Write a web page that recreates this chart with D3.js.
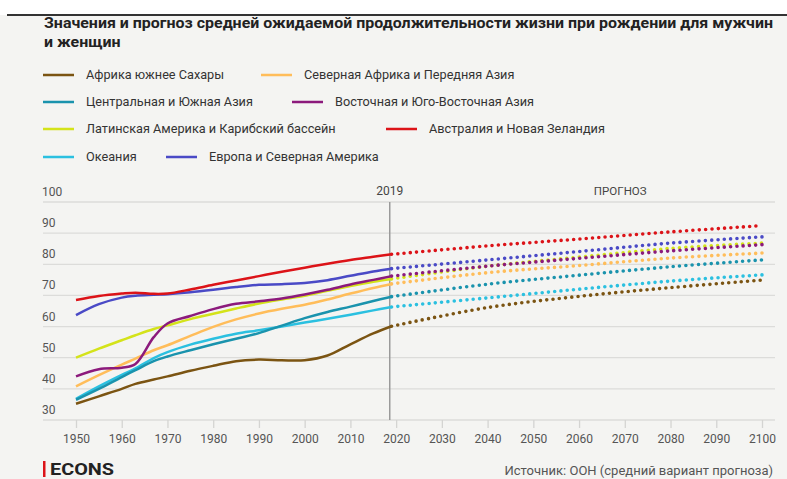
<!DOCTYPE html>
<html lang="ru">
<head>
<meta charset="UTF-8">
<title>Ожидаемая продолжительность жизни</title>
<script src="https://cdnjs.cloudflare.com/ajax/libs/d3/7.8.5/d3.min.js"></script>
<style>
  body, html { margin: 0; padding: 0; background: #fff; overflow: hidden; font-family: Roboto, Arial, sans-serif; }
  #chart { width: 787px; height: 479px; }
</style>
</head>
<body>
<div id="chart"></div>
<script>
// годы наблюдений и прогноза
const years = [1950, 1955, 1960, 1963, 1967, 1970, 1975, 1980, 1985, 1990, 1995, 2000, 2005, 2010, 2015, 2019];
const forecastYears = [2019, 2040, 2060, 2080, 2100];
const xTicks = [1950, 1960, 1970, 1980, 1990, 2000, 2010, 2020, 2030, 2040, 2050, 2060, 2070, 2080, 2090, 2100];
const yTicks = [30, 40, 50, 60, 70, 80, 90, 100];

const names = [
  "Африка южнее Сахары", "Северная Африка и Передняя Азия",
  "Центральная и Южная Азия", "Восточная и Юго-Восточная Азия",
  "Латинская Америка и Карибский бассейн", "Австралия и Новая Зеландия",
  "Океания", "Европа и Северная Америка"
];
const colors = ["#7b5412", "#ffbd5a", "#1a93ad", "#8c1a7c", "#d4e31a", "#dc1318", "#2bc0e0", "#4a4ac6"];

// факт
const subSahara  = [35.2, 37.6, 40.0, 41.6, 43.0, 44.0, 45.8, 47.4, 48.9, 49.4, 49.2, 49.2, 50.7, 54.3, 57.8, 60.1];
const northAfr   = [40.8, 44.4, 47.8, 49.7, 52.4, 54.0, 57.0, 59.9, 62.3, 64.2, 65.7, 67.0, 68.7, 70.6, 72.4, 73.7];
const centralAs  = [36.5, 40.0, 43.8, 46.0, 48.9, 50.4, 52.4, 54.3, 56.1, 57.9, 60.3, 62.7, 64.7, 66.4, 68.2, 69.6];
const eastAs     = [44.0, 46.3, 46.8, 48.0, 56.6, 61.0, 63.4, 65.6, 67.3, 68.1, 69.0, 70.3, 71.8, 73.5, 75.0, 76.2];
const latAm      = [50.0, 52.9, 55.6, 57.2, 59.2, 60.4, 62.4, 64.1, 65.8, 67.4, 68.7, 69.9, 71.5, 73.0, 74.4, 75.3];
const ausNz      = [68.5, 69.8, 70.6, 70.9, 70.5, 70.6, 71.9, 73.4, 74.8, 76.2, 77.6, 78.9, 80.2, 81.4, 82.4, 83.2];
const oceania    = [36.8, 40.8, 44.5, 46.6, 49.9, 51.8, 54.2, 56.1, 57.7, 58.8, 60.0, 61.3, 62.5, 63.8, 65.2, 66.3];
const europeNa   = [63.7, 67.2, 69.3, 69.9, 70.2, 70.4, 71.0, 71.8, 72.7, 73.4, 73.6, 74.0, 74.9, 76.3, 77.7, 78.6];

// прогноз
const subSaharaF = [60.1, 66.1, 69.7, 72.5, 74.9];
const northAfrF  = [73.7, 77.3, 79.6, 82.0, 83.6];
const centralAsF = [69.6, 73.6, 76.5, 79.2, 81.4];
const eastAsF    = [76.2, 79.4, 81.9, 84.3, 86.3];
const latAmF     = [75.3, 79.4, 82.3, 85.1, 86.8];
const ausNzF     = [83.2, 85.9, 88.1, 90.4, 92.4];
const oceaniaF   = [66.3, 69.2, 72.0, 74.6, 76.6];
const europeNaF  = [78.6, 81.4, 84.1, 86.8, 88.8];

const hist = [subSahara, northAfr, centralAs, eastAs, latAm, ausNz, oceania, europeNa];
const fcst = [subSaharaF, northAfrF, centralAsF, eastAsF, latAmF, ausNzF, oceaniaF, europeNaF];

const W = 787, H = 479;
const svg = d3.select("#chart").append("svg").attr("width", W).attr("height", H);

svg.append("rect").attr("width", W).attr("height", H).attr("fill", "#fff");
svg.append("rect").attr("y", 15).attr("width", W).attr("height", H - 15).attr("fill", "#f4f4f2");
svg.append("rect").attr("x", 7).attr("y", 14).attr("width", W - 7).attr("height", 2).attr("fill", "#333");

// заголовок
const title = svg.append("g").attr("font-weight", 700).attr("font-size", 14).attr("fill", "#222");
const t1 = title.append("text").attr("x", 44).attr("y", 28)
  .text("Значения и прогноз средней ожидаемой продолжительности жизни при рождении для мужчин");
const t2 = title.append("text").attr("x", 44).attr("y", 47).text("и женщин");
const ratio = 729 / t1.node().getComputedTextLength();
t1.attr("textLength", 729).attr("lengthAdjust", "spacingAndGlyphs");
t2.attr("textLength", t2.node().getComputedTextLength() * ratio).attr("lengthAdjust", "spacingAndGlyphs");

// легенда
const legendRows = [75, 102, 129, 157];
const legendCol2 = [261, 292, 386, 166];
names.forEach((n, i) => {
  const row = Math.floor(i / 2);
  const x0 = i % 2 === 0 ? 43 : legendCol2[row];
  const y0 = legendRows[row];
  const g = svg.append("g").attr("transform", `translate(${x0},${y0})`);
  g.append("line").attr("x1", 0).attr("x2", 31).attr("stroke", colors[i]).attr("stroke-width", 2.5);
  g.append("text").attr("x", 43).attr("dy", "0.35em").attr("font-size", 12.7).attr("fill", "#333").text(n);
});

// шкалы
const x = d3.scaleLinear().domain([1950, 2100]).range([76, 762]);
const y = d3.scaleLinear().domain([30, 100]).range([420, 202]);

// сетка
svg.append("g").selectAll("line").data(yTicks).join("line")
  .attr("x1", 43).attr("x2", 775)
  .attr("y1", d => y(d)).attr("y2", d => y(d))
  .attr("stroke", "#dcdcda").attr("stroke-width", 1.3);

svg.append("g").selectAll("text").data(yTicks).join("text")
  .attr("x", 42).attr("y", d => y(d) - 6)
  .attr("font-size", 12).attr("fill", "#555").text(d => d);

// ось X
const xAxis = svg.append("g").attr("transform", `translate(0,${y(30)})`)
  .call(d3.axisBottom(x).tickValues(xTicks).tickSize(8).tickPadding(6).tickFormat(d3.format("d")));
xAxis.select(".domain").remove();
xAxis.selectAll(".tick line").attr("stroke", "#d4d4d2").attr("stroke-width", 1.3);
xAxis.selectAll(".tick text").attr("font-size", 12).attr("fill", "#555").attr("font-family", "Roboto, Arial, sans-serif");

// линия 2019
svg.append("line").attr("x1", x(2018.6)).attr("x2", x(2018.6)).attr("y1", y(100)).attr("y2", y(30))
  .attr("stroke", "#9a9a9a").attr("stroke-width", 1.5);
svg.append("text").attr("x", x(2018.6)).attr("y", 195).attr("text-anchor", "middle")
  .attr("font-size", 12).attr("fill", "#444").text("2019");
svg.append("text").attr("x", x(2069)).attr("y", 195).attr("text-anchor", "middle")
  .attr("font-size", 11.5).attr("fill", "#444").text("ПРОГНОЗ");

// линии
const line = d3.line().x(d => x(d[0])).y(d => y(d[1])).curve(d3.curveCatmullRom.alpha(0.5));
const order = [0, 6, 2, 1, 4, 3, 7, 5];

order.forEach(i => {
  svg.append("path")
    .attr("d", line(forecastYears.map((yr, k) => [yr, fcst[i][k]])))
    .attr("fill", "none").attr("stroke", colors[i]).attr("stroke-width", 3.6)
    .attr("stroke-linecap", "round").attr("stroke-dasharray", "0,6.3");
});
order.forEach(i => {
  svg.append("path")
    .attr("d", line(years.map((yr, k) => [yr, hist[i][k]])))
    .attr("fill", "none").attr("stroke", colors[i]).attr("stroke-width", 2.5)
    .attr("stroke-linejoin", "round");
});

// подвал
svg.append("rect").attr("x", 43).attr("y", 461).attr("width", 2.5).attr("height", 16).attr("fill", "#dc1318");
svg.append("text").attr("x", 50).attr("y", 475).attr("font-size", 17).attr("font-weight", 700)
  .attr("fill", "#222").attr("textLength", 64).attr("lengthAdjust", "spacingAndGlyphs").text("ECONS");
svg.append("text").attr("x", 773).attr("y", 475).attr("text-anchor", "end")
  .attr("font-size", 13).attr("fill", "#555").text("Источник: ООН (средний вариант прогноза)");
</script>
</body>
</html>
